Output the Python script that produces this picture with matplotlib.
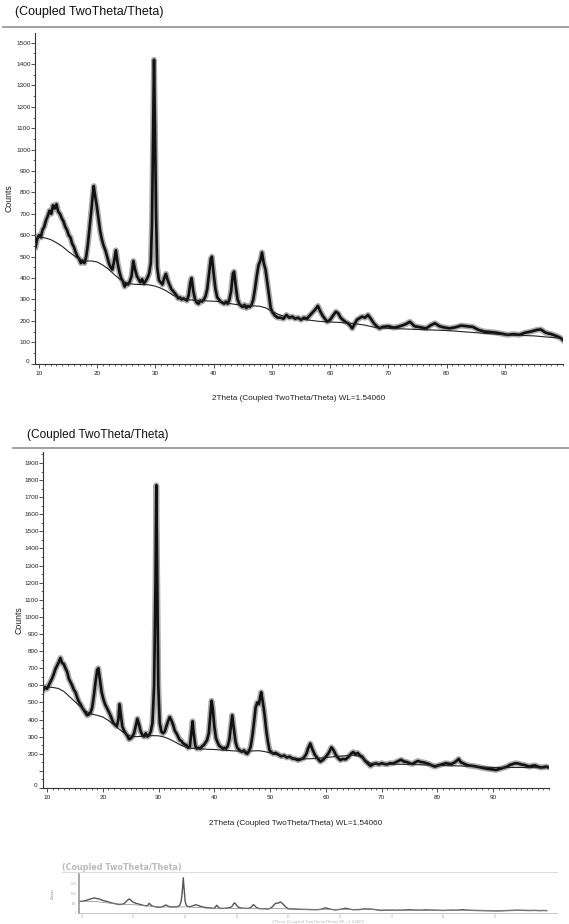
import numpy as np
import matplotlib
matplotlib.use('Agg')
import matplotlib.pyplot as plt
from matplotlib.lines import Line2D
from matplotlib.ticker import MultipleLocator, FixedLocator

plt.rcParams['font.family'] = ['Liberation Sans', 'DejaVu Sans']

# ---- upper pattern ----
top_2theta = [9.4, 9.7, 10.0, 10.3, 10.6, 10.9, 11.2, 11.5, 11.8, 12.1, 12.4, 12.7, 13.0, 13.3, 13.6, 13.9,
              14.2, 14.5, 14.8, 15.1, 15.4, 15.7, 16.0, 16.3, 16.6, 16.9, 17.2, 17.5, 17.8, 18.1, 18.4, 18.7,
              19.0, 19.2, 19.4, 19.6, 19.9, 20.2, 20.5, 20.8, 21.1, 21.4, 21.7, 22.0, 22.3, 22.6, 22.9, 23.2,
              23.5, 23.8, 24.1, 24.4, 24.7, 25.0, 25.3, 25.6, 25.9, 26.2, 26.5, 26.8, 27.1, 27.4, 27.7, 28.0,
              28.3, 28.6, 28.9, 29.2, 29.4, 29.6, 29.75, 29.9, 30.1, 30.3, 30.6, 30.9, 31.2, 31.5, 31.8, 32.1,
              32.4, 32.7, 33.0, 33.3, 33.6, 33.9, 34.2, 34.5, 34.8, 35.1, 35.4, 35.7, 36.0, 36.2, 36.5, 36.8,
              37.1, 37.4, 37.7, 38.0, 38.3, 38.6, 38.9, 39.2, 39.5, 39.7, 40.0, 40.3, 40.6, 40.9, 41.2, 41.5,
              41.8, 42.1, 42.4, 42.7, 43.0, 43.3, 43.5, 43.8, 44.1, 44.4, 44.7, 45.0, 45.3, 45.6, 45.9, 46.2,
              46.5, 46.8, 47.1, 47.4, 47.7, 48.0, 48.3, 48.6, 48.9, 49.2, 49.5, 49.8, 50.1, 50.5, 51.0, 51.5,
              52.0, 52.5, 53.0, 53.5, 54.0, 54.5, 55.0, 55.5, 56.0, 56.5, 57.0, 57.5, 57.9, 58.3, 58.7, 59.1,
              59.5, 60.0, 60.5, 61.0, 61.4, 61.8, 62.2, 62.6, 63.0, 63.4, 63.8, 64.2, 64.6, 65.0, 65.5, 66.0,
              66.5, 67.0, 67.5, 68.0, 68.5, 69.0, 70.0, 71.0, 72.0, 73.0, 73.7, 74.5, 75.5, 76.5, 77.3, 78.0,
              78.8, 79.5, 80.5, 81.5, 82.5, 83.5, 84.5, 85.5, 86.5, 87.5, 88.5, 89.5, 90.5, 91.5, 92.5, 93.5,
              94.5, 95.5, 96.2, 97.0, 98.0, 99.0, 99.6, 100.0]
top_counts = [545, 585, 600, 590, 625, 640, 670, 690, 715, 700, 740, 725, 745, 710, 700, 680,
              665, 640, 625, 600, 590, 560, 545, 520, 500, 490, 470, 480, 470, 500, 560, 640,
              720, 780, 830, 790, 740, 680, 620, 580, 550, 530, 500, 470, 450, 440, 480, 530,
              470, 430, 400, 385, 360, 375, 370, 385, 410, 480, 440, 410, 395, 380, 395, 375,
              385, 400, 420, 470, 650, 1100, 1420, 1150, 700, 450, 390, 380, 370, 400, 420, 390,
              370, 350, 340, 330, 320, 305, 310, 300, 305, 300, 295, 320, 380, 400, 340, 300,
              285, 280, 295, 290, 300, 315, 350, 420, 490, 500, 420, 350, 310, 300, 290, 285,
              280, 290, 280, 300, 340, 420, 430, 360, 300, 280, 270, 265, 275, 260, 270, 265,
              275, 300, 350, 410, 460, 480, 520, 470, 440, 380, 320, 260, 240, 225, 215, 215,
              210, 228, 215, 220, 210, 215, 205, 215, 210, 225, 240, 255, 270, 245, 225, 210,
              196, 205, 225, 243, 235, 215, 205, 196, 190, 180, 165, 185, 205, 212, 220, 215,
              228, 210, 189, 175, 165, 172, 175, 168, 175, 185, 196, 175, 170, 165, 180, 189,
              175, 170, 165, 170, 178, 175, 172, 158, 150, 148, 145, 140, 135, 138, 135, 145,
              150, 158, 160, 145, 138, 128, 120, 110]
top_bg_2theta = [9.4, 10, 11, 12, 13, 14, 15, 16, 17, 18, 19, 20, 21, 22, 23, 24, 25, 26, 27, 28, 29, 30,
                 31, 32, 33, 34, 35, 36, 37, 38, 39, 40, 41, 42, 43, 44, 45, 46, 47, 48, 49, 50, 51, 52,
                 54, 56, 58, 60, 62, 64, 66, 68, 70, 75, 80, 85, 90, 95, 100]
top_bg_counts = [585, 590, 588, 580, 565, 548, 525, 505, 488, 480, 480, 475, 460, 440, 415, 392, 378, 372,
                 370, 370, 368, 362, 352, 338, 320, 308, 300, 298, 296, 295, 293, 292, 290, 285, 280, 276,
                 273, 272, 270, 268, 260, 245, 232, 222, 212, 205, 198, 195, 192, 188, 180, 168, 165, 160,
                 155, 145, 135, 130, 118]

# ---- lower pattern ----
bot_2theta = [9.4, 9.7, 10.0, 10.3, 10.6, 10.9, 11.2, 11.5, 11.8, 12.1, 12.4, 12.7, 13.0, 13.3, 13.6, 13.9,
              14.2, 14.5, 14.8, 15.1, 15.4, 15.7, 16.0, 16.3, 16.6, 16.9, 17.2, 17.5, 17.8, 18.1, 18.4, 18.7,
              19.0, 19.2, 19.5, 19.8, 20.1, 20.4, 20.7, 21.0, 21.3, 21.6, 21.9, 22.2, 22.5, 22.8, 23.0, 23.2,
              23.5, 23.8, 24.1, 24.4, 24.7, 25.0, 25.3, 25.6, 25.9, 26.2, 26.5, 26.8, 27.1, 27.4, 27.7, 28.0,
              28.3, 28.6, 28.9, 29.2, 29.45, 29.6, 29.75, 29.95, 30.2, 30.5, 30.8, 31.1, 31.4, 31.7, 32.0, 32.3,
              32.6, 32.9, 33.2, 33.5, 33.8, 34.1, 34.4, 34.7, 35.0, 35.3, 35.6, 35.9, 36.1, 36.3, 36.6, 36.9,
              37.2, 37.5, 37.8, 38.1, 38.4, 38.7, 39.0, 39.3, 39.5, 39.7, 40.0, 40.3, 40.6, 40.9, 41.2, 41.5,
              41.8, 42.1, 42.4, 42.7, 43.0, 43.2, 43.5, 43.8, 44.1, 44.4, 44.7, 45.0, 45.3, 45.6, 45.9, 46.2,
              46.5, 46.8, 47.1, 47.4, 47.7, 48.0, 48.2, 48.4, 48.7, 49.0, 49.3, 49.6, 49.9, 50.2, 50.6, 51.0,
              51.5, 52.0, 52.5, 53.0, 53.5, 54.0, 54.5, 55.0, 55.5, 56.0, 56.5, 56.8, 57.2, 57.6, 58.0, 58.5,
              59.0, 59.5, 60.0, 60.5, 61.0, 61.4, 61.8, 62.2, 62.6, 63.0, 63.5, 64.0, 64.5, 64.9, 65.3, 65.7,
              66.1, 66.5, 67.0, 67.5, 68.0, 68.5, 69.0, 69.5, 70.0, 70.5, 71.0, 71.5, 72.0, 72.5, 73.0, 73.5,
              74.0, 74.5, 75.0, 75.5, 76.0, 76.5, 77.0, 77.5, 78.0, 78.5, 79.0, 79.5, 80.0, 80.5, 81.0, 81.5,
              82.0, 82.5, 83.0, 83.5, 83.8, 84.2, 84.6, 85.0, 85.5, 86.0, 86.5, 87.0, 87.5, 88.0, 88.5, 89.0,
              89.5, 90.0, 90.5, 91.0, 91.5, 92.0, 92.5, 93.0, 93.5, 94.0, 94.5, 95.0, 95.5, 96.0, 96.5, 97.0,
              97.5, 98.0, 98.5, 99.0, 99.5, 100.0]
bot_counts = [575, 590, 580, 600, 620, 640, 665, 695, 715, 735, 760, 730, 725, 700, 680, 640,
              620, 600, 575, 560, 530, 505, 490, 470, 455, 440, 425, 430, 440, 470, 540, 620,
              690, 700, 630, 560, 520, 490, 470, 450, 430, 405, 380, 370, 360, 400, 490, 440,
              360, 335, 320, 305, 285, 290, 300, 320, 360, 405, 370, 330, 310, 300, 320, 300,
              310, 330, 380, 600, 1200, 1770, 1250, 600, 380, 330, 320, 330, 360, 390, 415, 395,
              370, 335, 320, 300, 280, 275, 260, 255, 250, 235, 240, 330, 390, 320, 245, 230,
              235, 230, 245, 250, 265, 280, 320, 430, 510, 470, 360, 290, 265, 245, 240, 230,
              235, 230, 245, 285, 370, 425, 350, 270, 235, 225, 215, 212, 220, 205, 200, 215,
              240, 300, 380, 470, 500, 490, 530, 560, 500, 430, 340, 270, 220, 210, 200, 205,
              195, 185, 190, 178, 183, 172, 170, 163, 168, 175, 200, 231, 260, 225, 195, 173,
              154, 165, 183, 205, 238, 220, 192, 175, 163, 170, 167, 180, 200, 210, 198, 205,
              190, 183, 160, 144, 129, 140, 144, 138, 145, 140, 138, 145, 143, 150, 158, 165,
              155, 152, 145, 140, 150, 158, 152, 150, 145, 140, 132, 125, 130, 135, 140, 145,
              142, 140, 148, 160, 170, 150, 145, 138, 132, 130, 128, 125, 122, 118, 115, 112,
              110, 108, 105, 110, 115, 120, 125, 135, 140, 145, 143, 138, 135, 130, 125, 130,
              132, 125, 120, 122, 125, 120]
bot_bg_2theta = [9.4, 10, 11, 12, 13, 14, 15, 16, 17, 18, 19, 20, 21, 22, 23, 24, 25, 26, 27, 28, 29, 30,
                 31, 32, 33, 34, 35, 36, 37, 38, 39, 40, 42, 44, 46, 47, 48, 49, 50, 51, 52, 54, 56, 58,
                 60, 62, 64, 65, 66, 67, 68, 70, 75, 80, 85, 90, 95, 100]
bot_bg_counts = [585, 590, 588, 582, 565, 535, 505, 475, 448, 432, 425, 415, 395, 370, 342, 318, 303, 300,
                 302, 305, 306, 305, 298, 285, 268, 250, 238, 232, 230, 228, 226, 225, 220, 216, 215, 217,
                 218, 213, 205, 196, 188, 175, 170, 172, 178, 185, 190, 192, 185, 165, 145, 140, 138, 132,
                 128, 120, 120, 118]

title = '(Coupled TwoTheta/Theta)'
xlab = '2Theta (Coupled TwoTheta/Theta) WL=1.54060'

W, H = 569, 924
fig = plt.figure(figsize=(W / 100, H / 100), dpi=100)


def rect(l, t, r, b):
    return [l / W, 1 - b / H, (r - l) / W, (b - t) / H]


def style_axes(ax, ymax, yticks, ytick_labels, xlo, xhi, ylab_x, xlab_y):
    for s in ('top', 'right'):
        ax.spines[s].set_visible(False)
    for s in ('left', 'bottom'):
        ax.spines[s].set_color('#333333')
        ax.spines[s].set_linewidth(0.8)
    ax.set_xlim(xlo, xhi)
    ax.set_ylim(0, ymax)
    ax.xaxis.set_major_locator(FixedLocator([10, 20, 30, 40, 50, 60, 70, 80, 90]))
    ax.xaxis.set_minor_locator(MultipleLocator(1))
    ax.yaxis.set_major_locator(FixedLocator(yticks))
    ax.yaxis.set_minor_locator(MultipleLocator(50))
    ax.set_yticklabels(ytick_labels)
    ax.tick_params(axis='both', which='major', direction='out', length=2.8, width=0.6,
                   color='#333333', labelsize=4.6, labelcolor='#222222')
    ax.tick_params(axis='both', which='minor', direction='out', length=1.5, width=0.5, color='#333333')
    ax.tick_params(axis='y', which='major', pad=0.4)
    ax.tick_params(axis='x', which='major', pad=2.2)
    # the zero label sits a little above the axis line
    ax.text(-0.011, 0, '0', transform=ax.get_yaxis_transform(), ha='right', va='bottom',
            fontsize=4.6, color='#222222')
    ax.set_ylabel('Counts', fontsize=6.3, color='#222222')
    ax.yaxis.set_label_coords(ylab_x, 0.5)
    ax.set_xlabel(xlab, fontsize=5.9, color='#222222')
    ax.xaxis.set_label_coords(0.5, xlab_y)


# ---- upper panel ----
fig.text(15 / W, 1 - 12 / H, title, fontsize=9, va='center', ha='left', color='#111111')
fig.add_artist(Line2D([3 / W, 1.0], [1 - 27 / H] * 2, color='#999999', lw=1.3))
ax1 = fig.add_axes(rect(35, 33, 563, 363.7))
ax1.plot(top_2theta, top_counts, color='#666666', lw=4.2, alpha=0.55)
ax1.plot(top_2theta, top_counts, color='#111111', lw=1.9)
ax1.plot(top_bg_2theta, top_bg_counts, color='#222222', lw=0.8)
yt1 = list(range(0, 1501, 100))
style_axes(ax1, 1545, yt1, [''] + [str(v) for v in yt1[1:]], 9.31, 100, -0.041, -0.095)

# ---- lower panel ----
fig.text(27 / W, 1 - 435 / H, title, fontsize=8.6, va='center', ha='left', color='#111111')
fig.add_artist(Line2D([13 / W, 1.0], [1 - 448 / H] * 2, color='#999999', lw=1.3))
ax2 = fig.add_axes(rect(43, 452, 549, 788))
ax2.plot(bot_2theta, bot_counts, color='#666666', lw=4.2, alpha=0.55)
ax2.plot(bot_2theta, bot_counts, color='#111111', lw=1.9)
ax2.plot(bot_bg_2theta, bot_bg_counts, color='#222222', lw=0.8)
yt2 = list(range(0, 1901, 100))
style_axes(ax2, 1964, yt2, ['', ''] + [str(v) for v in yt2[2:]], 9.28, 100, -0.038, -0.094)

# ---- tiny squashed copy at the bottom ----
fig.text(62 / W, 1 - 868 / H, title, fontsize=5.8, fontweight='bold', va='center', ha='left',
         color='#bbbbbb', family='DejaVu Sans')
fig.add_artist(Line2D([62 / W, 557 / W], [1 - 872 / H] * 2, color='#dddddd', lw=0.8))
ax3 = fig.add_axes(rect(79, 874, 557, 913))
ax3.plot(bot_2theta, bot_counts, color='#555555', lw=1.0)
ax3.plot(bot_bg_2theta, bot_bg_counts, color='#888888', lw=0.5)
for s in ('top', 'right'):
    ax3.spines[s].set_visible(False)
ax3.spines['left'].set_color('#999999')
ax3.spines['left'].set_linewidth(1.2)
ax3.spines['bottom'].set_color('#bbbbbb')
ax3.spines['bottom'].set_linewidth(0.6)
ax3.set_xlim(9.4, 102)
ax3.set_ylim(0, 1960)
ax3.xaxis.set_major_locator(FixedLocator([10, 20, 30, 40, 50, 60, 70, 80, 90]))
ax3.yaxis.set_major_locator(FixedLocator([0, 500, 1000, 1500]))
ax3.yaxis.set_minor_locator(MultipleLocator(100))
ax3.tick_params(axis='both', which='major', direction='out', length=1, width=0.4, color='#bbbbbb',
                labelsize=1.8, labelcolor='#aaaaaa', pad=0.8)
ax3.tick_params(axis='y', which='minor', direction='out', length=1, width=0.3, color='#cccccc')
ax3.set_ylabel('Counts', fontsize=2.5, color='#888888')
ax3.yaxis.set_label_coords(-0.05, 0.5)
ax3.set_xlabel(xlab, fontsize=3.2, color='#bbbbbb', labelpad=0.2)

fig.savefig('out.png', dpi=100)
